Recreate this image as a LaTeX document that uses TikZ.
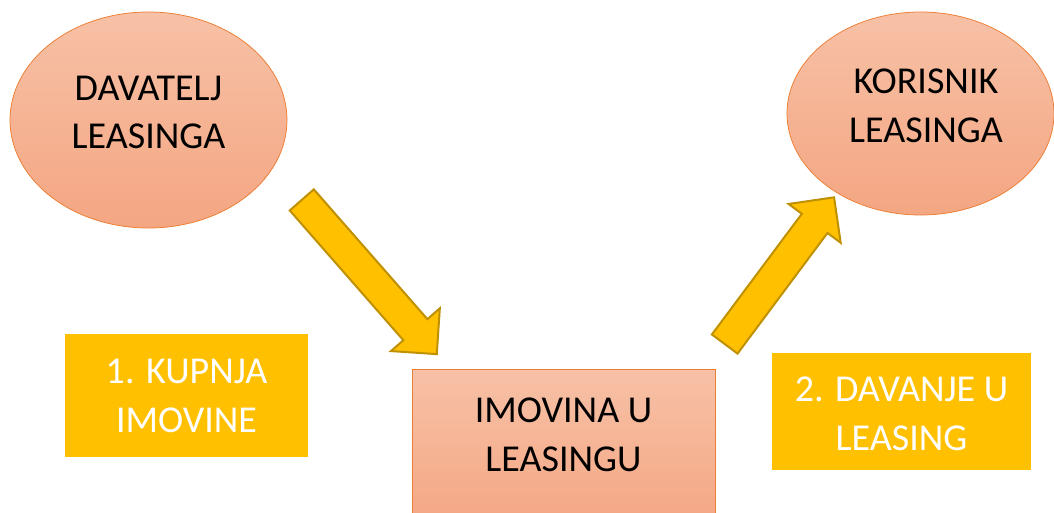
\documentclass[tikz,border=0pt]{standalone}
\usepackage{fontspec}
\setmainfont{Carlito}
\usepackage{tikz}
\usetikzlibrary{shapes.geometric,shapes.arrows}

\definecolor{salmonTop}{RGB}{247,193,167}
\definecolor{salmonBot}{RGB}{244,166,130}
\definecolor{edgeOrange}{RGB}{237,125,49}
\definecolor{boxYellow}{RGB}{255,192,0}
\definecolor{arrowEdge}{RGB}{191,144,0}

\newcommand{\twolines}[3][0pt]{\raisebox{#1}[0pt][0pt]{\begin{tabular}{@{}c@{}}#2\\#3\end{tabular}}}

\begin{document}
\begin{tikzpicture}[x=1pt, y=-1pt, inner sep=0pt, font=\fontsize{38}{48.5}\selectfont]
    \tikzstyle{party}=[ellipse, draw=edgeOrange, line width=0.75pt, top color=salmonTop, bottom color=salmonBot, text=black]
    \tikzstyle{asset}=[rectangle, draw=edgeOrange, line width=0.75pt, top color=salmonTop, bottom color=salmonBot, text=black]
    \tikzstyle{stepbox}=[rectangle, fill=boxYellow, text=white]
    \tikzstyle{flow}=[single arrow, fill=boxYellow, draw=arrowEdge, line width=2pt, minimum width=63pt, single arrow head extend=16.5pt, single arrow head indent=0pt, inner sep=15pt]

    \useasboundingbox (0,0) rectangle (1054,513);

    \node[party, minimum width=277pt, minimum height=216pt] (Dav) at (148.5,120) {\twolines[-1pt]{DAVATELJ}{LEASINGA}};
    \node[party, minimum width=267pt, minimum height=203pt] (Kor) at (920.5,113.5) {\hspace*{11pt}\twolines[-1pt]{KORISNIK}{LEASINGA}};
    \node[asset, minimum width=303pt, minimum height=161pt] (Imo) at (563.5,449.5) {\twolines[6pt]{IMOVINA U}{LEASINGU}};
    \node[stepbox, minimum width=243pt, minimum height=123pt] (Kup) at (186.5,395.5) {\twolines[-9pt]{1. KUPNJA}{IMOVINE}};
    \node[stepbox, minimum width=259pt, minimum height=117pt] (Dlz) at (901.5,411.5) {\twolines[-11pt]{2. DAVANJE U}{LEASING}};

    \node[flow, minimum height=205pt, rotate=-48.8] (Buy) at (364,271) {};
    \node[flow, minimum height=183pt, rotate=53.3] (Give) at (774.6,277.1) {};
\end{tikzpicture}
\end{document}
